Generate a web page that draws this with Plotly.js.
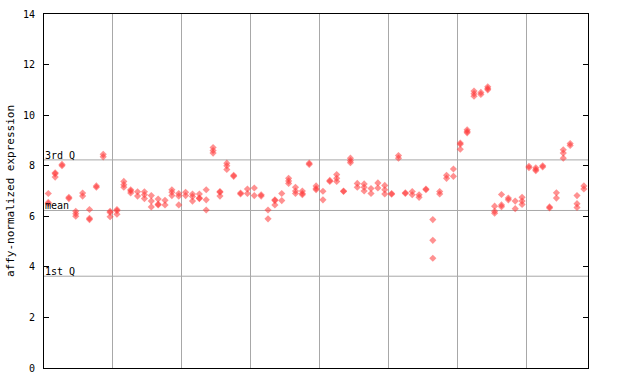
<!DOCTYPE html>
<html>
<head>
<meta charset="utf-8">
<script src="https://cdn.plot.ly/plotly-3.0.1.min.js"></script>
<style>html,body{margin:0;padding:0;background:#fff;}#chart{width:640px;height:384px;}</style>
</head>
<body>
<div id="chart"></div>
<script>
// sample (column) index of each measurement
const sampleIdx = [
  0,0,0, 1,1,1, 2,2, 3,3, 4,4,4, 5,5, 6,6,6, 7,7, 8,8, 9,9,9,
  10,10,10, 11,11,11, 12,12,12, 13,13, 14,14,14, 15,15,15, 16,16,16, 17,17, 18,18,18, 19,19,19,
  20,20, 21,21,21, 22,22,22, 23,23,23, 24,24,24, 25,25,25, 26,26,26, 27,27, 28,28, 29,29,
  30,30, 31,31, 32,32, 33,33,33, 34,34, 35,35,35, 36,36,36, 37,37,37, 38,38, 39,39,39,
  40,40, 41,41, 42,42,42, 43,43, 44,44,44, 45,45, 46,46,46, 47,47, 48,48, 49,49,49,
  50,50, 51,51, 52,52, 53,53, 54,54, 55,55, 56,56,56, 57,57, 58,58, 59,59,
  60,60,60, 61,61,61, 62,62,62, 63,63, 64,64,64, 65,65,65, 66,66,66, 67,67, 68,68, 69,69,69,
  70,70, 71,71,71, 72,72, 73,73, 74,74, 75,75,75, 76,76, 77,77,77, 78,78
];
// affy-normalized expression values
const expression = [
  6.9,6.55,6.5, 7.72,7.68,7.55, 8.05,8.0, 6.75,6.7, 6.2,6.1,6.0, 6.92,6.8, 6.27,5.92,5.87, 7.2,7.15, 8.45,8.35, 6.2,6.15,5.98,
  6.27,6.22,6.08, 7.38,7.25,7.15, 7.05,7.0,6.92, 6.97,6.8, 6.97,6.85,6.7, 6.82,6.6,6.37, 6.68,6.48,6.45, 6.63,6.45, 7.05,6.95,6.82, 6.9,6.8,6.45,
  6.95,6.82, 6.88,6.78,6.6, 6.88,6.72,6.7, 7.05,6.65,6.25, 8.72,8.6,8.5, 6.98,6.95,6.8, 8.1,8.0,7.85, 7.62,7.58, 6.92,6.88, 7.08,6.9,
  7.12,6.82, 6.85,6.8, 6.25,5.9, 6.65,6.62,6.45, 6.9,6.62, 7.5,7.4,7.3, 7.15,7.0,6.9, 7.0,6.9,6.85, 8.1,8.05, 7.2,7.1,7.05,
  6.99,6.65, 7.42,7.38, 7.65,7.5,7.38, 7.0,6.98, 8.3,8.2,8.12, 7.3,7.15, 7.28,7.15,7.0, 7.1,6.9, 7.32,7.12, 7.22,7.05,6.88,
  6.9,6.87, 8.4,8.3, 6.93,6.9, 6.98,6.85, 6.85,6.75, 7.08,7.05, 5.87,5.05,4.34, 6.98,6.88, 7.62,7.5, 7.87,7.58,
  8.9,8.85,8.65, 9.42,9.35,9.3, 10.95,10.85,10.75, 10.9,10.82, 11.12,11.05,11.0, 6.4,6.2,6.12, 6.86,6.45,6.38, 6.72,6.65, 6.6,6.3, 6.75,6.6,6.47,
  7.98,7.92, 7.92,7.85,7.8, 8.0,7.95, 6.37,6.33, 6.93,6.72, 8.63,8.5,8.3, 8.88,8.8, 6.82,6.5,6.35, 7.2,7.08
];
// reference lines
const refLabels = ["3rd Q", "mean", "1st Q"];
const refValues = [8.23, 6.23, 3.63];
// group separators (in sample-index units)
const groupBreaks = [9.42, 19.45, 29.48, 39.5, 49.53, 59.55, 69.58];
const yTicks = [0, 2, 4, 6, 8, 10, 12, 14];

const mono = "DejaVu Sans Mono, monospace";

const trace = {
  type: "scatter",
  mode: "markers",
  x: sampleIdx,
  y: expression,
  marker: { symbol: "diamond", size: 5.5, color: "rgba(255,55,55,0.55)", line: { width: 0 } },
  hoverinfo: "y",
  showlegend: false
};

const shapes = refValues.map(v => ({
  type: "line", xref: "paper", x0: 0, x1: 1, yref: "y", y0: v, y1: v,
  line: { color: "#a8a8a8", width: 1 }, layer: "below"
}));

const annotations = refLabels.map((t, i) => ({
  text: t, xref: "paper", x: 0, xanchor: "left", yref: "y", y: refValues[i], yanchor: "bottom",
  showarrow: false, font: { family: mono, size: 10, color: "#000" }, xshift: -1, yshift: -3
}));

const layout = {
  width: 640, height: 384,
  margin: { l: 44, r: 52, t: 14, b: 16, pad: 0 },
  paper_bgcolor: "#fff", plot_bgcolor: "#fff",
  showlegend: false,
  xaxis: {
    range: [-0.625, 78.6],
    tickmode: "array", tickvals: groupBreaks, showticklabels: false, ticks: "",
    showgrid: true, gridcolor: "#a8a8a8", gridwidth: 1,
    zeroline: false, showline: true, linecolor: "#000", linewidth: 1, mirror: true
  },
  yaxis: {
    range: [0, 14],
    tickmode: "array", tickvals: yTicks, ticktext: yTicks.map(String),
    ticks: "inside", ticklen: 5, tickcolor: "#000", tickwidth: 1,
    showgrid: false, zeroline: false, showline: true, linecolor: "#000", linewidth: 1, mirror: "ticks",
    tickfont: { family: mono, size: 10, color: "#000" },
    ticklabelstandoff: 6,
    title: { text: "affy-normalized expression", font: { family: mono, size: 11, color: "#000" }, standoff: 6 }
  },
  shapes: shapes,
  annotations: annotations
};

Plotly.newPlot("chart", [trace], layout, { displayModeBar: false, staticPlot: true });
</script>
</body>
</html>
